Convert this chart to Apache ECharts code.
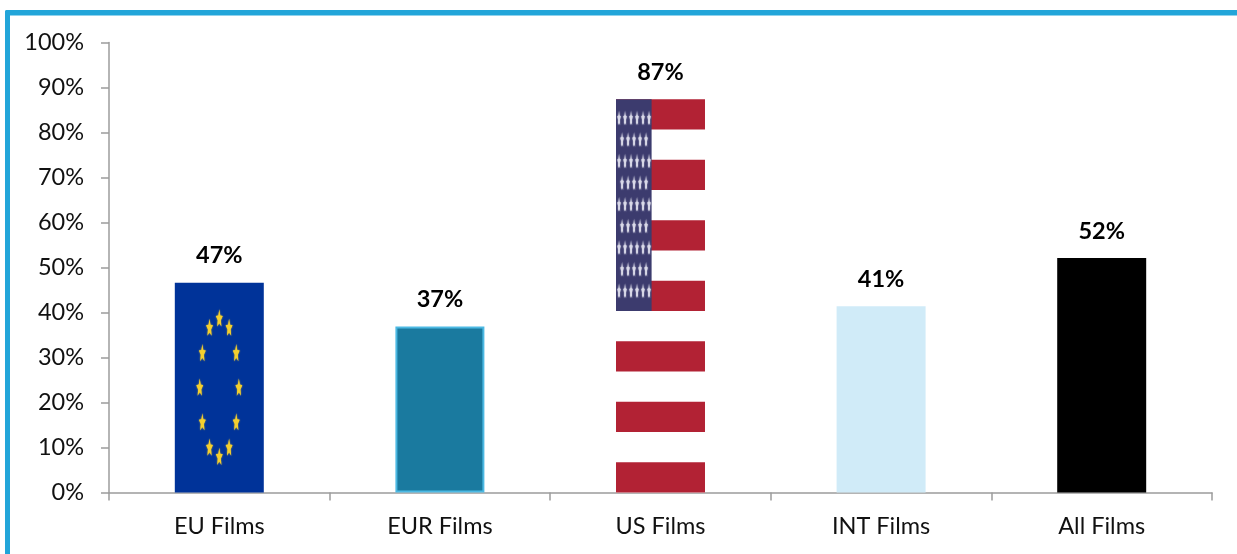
<!DOCTYPE html>
<html>
<head>
<meta charset="utf-8">
<style>html,body{margin:0;padding:0;background:#fff}#c{width:1237px;height:554px}</style>
<script src="https://cdn.jsdelivr.net/npm/echarts@6/dist/echarts.min.js"></script>
</head>
<body>
<div id="c"></div>
<script>
const categories = ['EU Films', 'EUR Films', 'US Films', 'INT Films', 'All Films'];
const shares = [46.6, 36.9, 87.4, 41.4, 52.1];
const barColors = ['#003399', '#1a7a9f', '#ffffff', '#d0ebf8', '#000000'];
const barBorders = ['#003399', '#4cb9e3', '#ffffff', '#d0ebf8', '#000000'];
const yTicks = { min: 0, max: 100, interval: 10 };
const FONT = 'Lato';
const BAR_FRACTION = 0.4034;

function star(cx, cy, rx, ry, fill, inner) {
  const pts = [];
  for (let i = 0; i < 10; i++) {
    const a = -Math.PI / 2 + i * Math.PI / 5;
    const r = i % 2 ? inner : 1;
    pts.push([cx + Math.cos(a) * rx * r, cy + Math.sin(a) * ry * r]);
  }
  return { type: 'polygon', shape: { points: pts }, style: { fill, shadowBlur: 1.5, shadowColor: fill } };
}

function euFlag(x, top, w, h) {
  const out = [];
  const cx = x + w / 2, cy = top + h * 0.502;
  for (let k = 0; k < 12; k++) {
    const a = k * Math.PI / 6;
    out.push(star(cx + Math.sin(a) * w * 0.22, cy - Math.cos(a) * h * 0.33, 3.6, 9.5, '#f4cf2e', 0.45));
  }
  return out;
}

function usFlag(x, top, w, h) {
  const out = [];
  const sh = h / 13;
  for (let s = 0; s < 7; s++) {
    out.push({ type: 'rect', shape: { x, y: top + s * 2 * sh, width: w, height: sh }, style: { fill: '#b22234' } });
  }
  const cw = w * 0.4, ch = sh * 7;
  out.push({ type: 'rect', shape: { x, y: top, width: cw, height: ch }, style: { fill: '#3c3b6e' } });
  for (let r = 0; r < 9; r++) {
    const odd = r % 2 === 0, n = odd ? 6 : 5;
    const yy = top + ch * (r + 0.9) / 9.8;
    for (let c = 0; c < n; c++) {
      const xx = x + cw * ((odd ? 0.085 : 0.17) + c * 0.1685);
      out.push(star(xx, yy, 1.8, 8, '#d9d9e8', 0.5));
    }
  }
  return out;
}

const flags = { 0: euFlag, 2: usFlag };

const chart = echarts.init(document.getElementById('c'), null, { renderer: 'canvas' });
chart.setOption({
  animation: false,
  backgroundColor: '#fff',
  textStyle: { fontFamily: FONT },
  grid: { left: 109, right: 25, top: 42.5, bottom: 61.5 },
  graphic: [
    { type: 'rect', silent: true, shape: { x: 5, y: 10, width: 1232, height: 5.5, r: [2, 0, 0, 0] }, style: { fill: '#22a5d9' } },
    { type: 'rect', silent: true, shape: { x: 5, y: 10, width: 5, height: 544, r: [2, 0, 0, 0] }, style: { fill: '#22a5d9' } }
  ],
  xAxis: {
    type: 'category',
    data: categories,
    axisLine: { lineStyle: { color: '#9c9c9c', width: 1.5 } },
    axisTick: { show: true, length: 8, alignWithLabel: false, lineStyle: { color: '#9c9c9c', width: 1.5 } },
    axisLabel: { color: '#111', fontFamily: FONT, fontSize: 23.5, margin: 22 }
  },
  yAxis: {
    type: 'value',
    min: yTicks.min,
    max: yTicks.max,
    interval: yTicks.interval,
    splitLine: { show: false },
    axisLine: { show: true, lineStyle: { color: '#9c9c9c', width: 1.5 } },
    axisTick: { show: true, length: 8, lineStyle: { color: '#9c9c9c', width: 1.5 } },
    axisLabel: { color: '#111', fontFamily: FONT, fontSize: 23.5, margin: 25, formatter: '{value}%' }
  },
  series: [
    {
      type: 'bar',
      barWidth: (BAR_FRACTION * 100) + '%',
      data: shares.map((v, i) => ({
        value: v,
        itemStyle: { color: barColors[i], borderColor: barBorders[i], borderWidth: i === 1 ? 2 : 0 }
      })),
      label: {
        show: true,
        position: 'top',
        distance: 15,
        color: '#000',
        fontFamily: FONT,
        fontWeight: 'bold',
        fontSize: 23.5,
        formatter: p => Math.round(p.value) + '%'
      }
    },
    {
      type: 'custom',
      silent: true,
      z: 3,
      encode: { x: 0, y: 1 },
      data: shares.map((v, i) => [i, v]).filter(d => flags[d[0]]),
      renderItem(params, api) {
        const i = api.value(0);
        const topPt = api.coord([i, api.value(1)]);
        const basePt = api.coord([i, 0]);
        const w = api.size([1, 0])[0] * BAR_FRACTION;
        return {
          type: 'group',
          children: flags[i](topPt[0] - w / 2, topPt[1], w, basePt[1] - topPt[1])
        };
      }
    }
  ]
});
</script>
</body>
</html>
